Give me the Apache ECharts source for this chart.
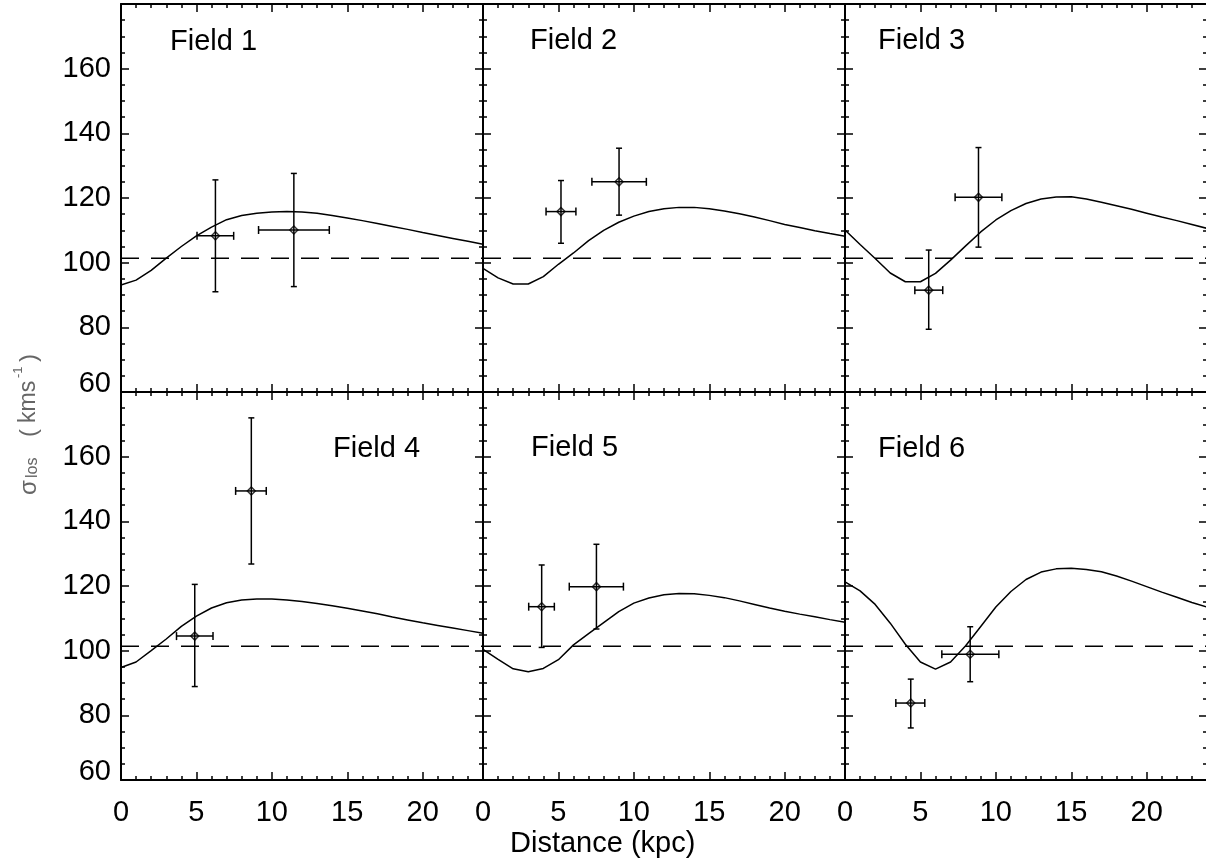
<!DOCTYPE html>
<html>
<head>
    <meta charset="utf-8">
    <title>sigma los vs distance</title>
    <script src="https://cdn.jsdelivr.net/npm/echarts@6.0.0/dist/echarts.min.js"></script>
</head>
<body style="margin:0;background:#fff;">
<div id="main" style="width:1206px;height:862px;"></div>
<script type="text/javascript">

    // distance grid of the model curves (kpc)
    const distance = [0, 1, 2, 3, 4, 5, 6, 7, 8, 9, 10, 11, 12, 13, 14, 15, 16, 17, 18, 19, 20, 21, 22, 23, 24];

    // model sigma_los for each field
    const modelF1 = [93.1, 94.6, 97.6, 101.4, 105.0, 108.3, 111.0, 113.3, 114.6, 115.3, 115.7, 115.8, 115.7, 115.3, 114.6, 113.8, 113.0, 112.1, 111.2, 110.3, 109.3, 108.4, 107.5, 106.6, 105.7];
    const modelF2 = [98.2, 95.3, 93.4, 93.4, 95.7, 99.5, 103.0, 106.8, 110.0, 112.5, 114.4, 115.8, 116.7, 117.1, 117.1, 116.7, 116.0, 115.1, 114.1, 113.0, 111.8, 110.9, 109.9, 109.0, 108.2];
    const modelF3 = [110.1, 105.6, 101.3, 96.8, 94.1, 94.1, 96.7, 100.8, 105.2, 109.5, 113.2, 116.1, 118.3, 119.7, 120.3, 120.4, 119.7, 118.7, 117.6, 116.5, 115.3, 114.1, 113.0, 111.8, 110.6];
    const modelF4 = [94.8, 96.5, 100.0, 103.6, 107.5, 110.7, 113.2, 114.8, 115.7, 116.0, 116.0, 115.7, 115.2, 114.6, 113.9, 113.1, 112.3, 111.4, 110.4, 109.5, 108.6, 107.8, 107.0, 106.2, 105.4];
    const modelF5 = [100.4, 97.3, 94.4, 93.5, 94.5, 97.2, 101.8, 105.3, 108.7, 112.1, 114.7, 116.3, 117.3, 117.7, 117.6, 117.1, 116.4, 115.4, 114.3, 113.2, 112.2, 111.3, 110.5, 109.6, 108.8];
    const modelF6 = [121.3, 118.5, 114.3, 108.5, 102.0, 96.5, 94.3, 96.5, 101.5, 107.5, 113.5, 118.3, 122.0, 124.3, 125.3, 125.5, 125.1, 124.4, 123.1, 121.5, 119.8, 118.1, 116.5, 114.9, 113.5];

    // reference level (dashed)
    const sigmaRef = 101.4;

    // measured points: [dist, sigma, distLo, distHi, sigmaLo, sigmaHi]
    const ptsF1 = [[6.26, 108.3, 5.04, 7.47, 91.0, 125.6], [11.46, 110.1, 9.12, 13.81, 92.6, 127.6]];
    const ptsF2 = [[5.17, 115.8, 4.18, 6.16, 106.0, 125.4], [9.02, 125.0, 7.22, 10.83, 114.7, 135.4]];
    const ptsF3 = [[5.55, 91.5, 4.63, 6.48, 79.4, 103.9], [8.85, 120.2, 7.3, 10.4, 104.8, 135.6]];
    const ptsF4 = [[4.89, 104.5, 3.68, 6.1, 88.9, 120.5], [8.64, 149.4, 7.6, 9.63, 126.8, 172.0]];
    const ptsF5 = [[3.89, 113.6, 3.03, 4.73, 101.0, 126.5], [7.52, 119.8, 5.72, 9.31, 106.7, 132.9]];
    const ptsF6 = [[4.36, 83.8, 3.37, 5.29, 76.1, 91.2], [8.3, 98.9, 6.42, 10.2, 90.4, 107.4]];

    const fieldNames = ['Field 1', 'Field 2', 'Field 3', 'Field 4', 'Field 5', 'Field 6'];
    const xTicks = [0, 5, 10, 15, 20];
    const yTicks = [60, 80, 100, 120, 140, 160];

    const models = [modelF1, modelF2, modelF3, modelF4, modelF5, modelF6];
    const points = [ptsF1, ptsF2, ptsF3, ptsF4, ptsF5, ptsF6];

    const FONT = '"Liberation Sans", Arial, Helvetica, sans-serif';
    const colLeft = [121, 483, 845];
    const rowTop = [4, 392];
    const cellW = 362, cellH = 388;

    // error bar drawing
    function errRender(params, api) {
        const x = api.value(0), y = api.value(1);
        const pl = api.coord([api.value(2), y]);
        const ph = api.coord([api.value(3), y]);
        const pb = api.coord([x, api.value(4)]);
        const pt = api.coord([x, api.value(5)]);
        const cap = 4;
        const st = {stroke: '#000', lineWidth: 1.5, fill: null};
        const seg = (a, b, c, d) => ({type: 'line', shape: {x1: a, y1: b, x2: c, y2: d}, style: st});
        return {
            type: 'group',
            children: [
                seg(pl[0], pl[1], ph[0], ph[1]),
                seg(pl[0], pl[1] - cap, pl[0], pl[1] + cap),
                seg(ph[0], ph[1] - cap, ph[0], ph[1] + cap),
                seg(pb[0], pb[1], pt[0], pt[1]),
                seg(pb[0] - cap + 1, pb[1], pb[0] + cap - 1, pb[1]),
                seg(pt[0] - cap + 1, pt[1], pt[0] + cap - 1, pt[1])
            ]
        };
    }

    const grids = [], xAxes = [], yAxes = [], series = [];
    const tickStyle = {color: '#000', width: 1.5};

    for (let i = 0; i < 6; i++) {
        const row = i < 3 ? 0 : 1, col = i % 3;
        grids.push({left: colLeft[col], top: rowTop[row], width: cellW, height: cellH, outerBoundsMode: 'none'});

        const xBase = {
            gridIndex: i, type: 'value', min: 0, max: 24, interval: 5,
            axisLine: {onZero: false, lineStyle: {color: '#000', width: 2}},
            axisTick: {inside: true, length: 8, lineStyle: tickStyle},
            minorTick: {show: true, splitNumber: 5, length: 4, lineStyle: tickStyle},
            splitLine: {show: false}
        };
        xAxes.push(Object.assign({}, xBase, {
            position: 'bottom',
            axisLabel: {
                show: row === 1, color: '#000', fontSize: 29, fontFamily: FONT, margin: 18,
                showMinLabel: true, showMaxLabel: false, hideOverlap: false,
                formatter: v => xTicks.indexOf(v) >= 0 ? String(v) : ''
            }
        }));
        xAxes.push(Object.assign({}, xBase, {position: 'top', axisLabel: {show: false}}));

        const yBase = {
            gridIndex: i, type: 'value', min: 60, max: 180, interval: 20,
            axisLine: {onZero: false, lineStyle: {color: '#000', width: 2}},
            axisTick: {inside: true, length: 8, lineStyle: tickStyle},
            minorTick: {show: true, splitNumber: 4, length: 4, lineStyle: tickStyle},
            splitLine: {show: false}
        };
        yAxes.push(Object.assign({}, yBase, {
            position: 'left',
            axisLabel: {
                show: col === 0, color: '#000', fontSize: 29, fontFamily: FONT, margin: 10,
                lineHeight: 16, hideOverlap: false, showMinLabel: true, showMaxLabel: true,
                formatter: v => yTicks.indexOf(v) < 0 ? '' : (v === 60 ? '60\n ' : String(v))
            }
        }));
        yAxes.push(Object.assign({}, yBase, {position: 'right', axisLabel: {show: false}}));

        series.push({
            type: 'line', xAxisIndex: 2 * i, yAxisIndex: 2 * i,
            data: distance.map((d, j) => [d, models[i][j]]),
            symbol: 'none', smooth: false, silent: true,
            lineStyle: {color: '#000', width: 1.5}, z: 3
        });
        series.push({
            type: 'line', xAxisIndex: 2 * i, yAxisIndex: 2 * i,
            data: [[0, sigmaRef], [24, sigmaRef]],
            symbol: 'none', silent: true,
            lineStyle: {color: '#000', width: 1.5, type: [18, 12]}, z: 3
        });
        series.push({
            type: 'custom', xAxisIndex: 2 * i, yAxisIndex: 2 * i,
            data: points[i], renderItem: errRender, silent: true, z: 4
        });
        series.push({
            type: 'scatter', xAxisIndex: 2 * i, yAxisIndex: 2 * i,
            data: points[i].map(p => [p[0], p[1]]),
            symbol: 'diamond', symbolSize: 8, silent: true,
            itemStyle: {color: 'rgba(0,0,0,0)', borderColor: '#000', borderWidth: 1.5}, z: 5
        });
    }

    // panel titles
    const titlePos = [[170, 44], [530, 43], [878, 43], [333, 451], [531, 450], [878, 451]];
    const graphics = fieldNames.map((t, i) => ({
        type: 'text', left: titlePos[i][0], top: titlePos[i][1] - 17,
        style: {text: t, fontSize: 29, fontFamily: FONT, fill: '#000'}
    }));

    graphics.push({
        type: 'text', left: 510, top: 829,
        style: {text: 'Distance (kpc)', fontSize: 29, fontFamily: FONT, fill: '#000'}
    });

    // y title, rotated, drawn in pieces for sub/superscripts
    const yc = '#666';
    graphics.push({
        type: 'group', x: 29, y: 495, rotation: Math.PI / 2,
        children: [
            {type: 'text', x: 0, y: 0, style: {text: 'σ', fontSize: 24, fontFamily: FONT, fill: yc, verticalAlign: 'middle'}},
            {type: 'text', x: 17, y: 4, style: {text: 'los', fontSize: 16, fontFamily: FONT, fill: yc, verticalAlign: 'middle'}},
            {type: 'text', x: 58, y: 0, style: {text: '(', fontSize: 24, fontFamily: FONT, fill: yc, verticalAlign: 'middle'}},
            {type: 'text', x: 72, y: 0, style: {text: 'kms', fontSize: 23, fontFamily: FONT, fill: yc, verticalAlign: 'middle'}},
            {type: 'text', x: 117, y: -11, style: {text: '-1', fontSize: 13, fontFamily: FONT, fill: yc, verticalAlign: 'middle'}},
            {type: 'text', x: 133, y: 0, style: {text: ')', fontSize: 24, fontFamily: FONT, fill: yc, verticalAlign: 'middle'}}
        ]
    });

    const option = {
        animation: false,
        backgroundColor: '#fff',
        grid: grids,
        xAxis: xAxes,
        yAxis: yAxes,
        series: series,
        graphic: graphics
    };

    let myChart = echarts.init(document.getElementById('main'));
    myChart.setOption(option);
</script>
</body>
</html>
